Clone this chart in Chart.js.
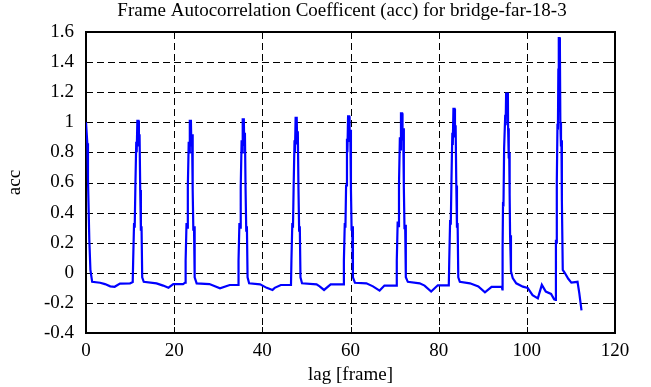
<!DOCTYPE html>
<html>
<head>
<meta charset="utf-8">
<script src="https://cdn.jsdelivr.net/npm/chart.js@4.4.1/dist/chart.umd.min.js"></script>
<style>
html,body{margin:0;padding:0;background:#fff;}
#wrap{width:651px;height:387px;position:relative;}
</style>
</head>
<body>
<div id="wrap"><canvas id="c" width="651" height="387"></canvas></div>
<script>
const titleText = "Frame Autocorrelation Coefficent (acc) for bridge-far-18-3";
const xTitle = "lag [frame]";
const yTitle = "acc";
const xTicks = [0, 20, 40, 60, 80, 100, 120];
const yTicks = [-0.4, -0.2, 0, 0.2, 0.4, 0.6, 0.8, 1, 1.2, 1.4, 1.6];

const lags = [
  0, 0.3, 0.45, 0.6, 0.75, 1.0, 1.4, 3.2, 4.3, 5.5, 6.5, 7.7, 10.0, 10.6,
  10.7, 10.9, 11.05, 11.2, 11.4, 11.5, 11.65, 11.9, 12.0, 12.15, 12.3, 12.45, 12.6, 12.75, 13.1,
  16.0, 17.5, 18.7, 19.8, 22.0, 22.5,
  22.6, 22.8, 22.95, 23.1, 23.3, 23.4, 23.55, 23.8, 23.9, 24.05, 24.2, 24.35, 24.5, 24.65, 25.1,
  28.0, 30.4, 32.6, 34.5,
  34.6, 34.8, 34.95, 35.1, 35.3, 35.4, 35.55, 35.8, 35.9, 36.05, 36.2, 36.35, 36.5, 36.65, 37.0,
  39.5, 41.0, 42.3, 42.8, 44.2, 46.5,
  46.6, 46.8, 46.95, 47.1, 47.3, 47.4, 47.55, 47.8, 47.9, 48.05, 48.2, 48.35, 48.5, 48.65, 49.0,
  52.3, 53.0, 54.0, 55.5, 58.4,
  58.5, 58.7, 58.85, 59.0, 59.2, 59.3, 59.45, 59.7, 59.8, 59.95, 60.1, 60.25, 60.4, 60.55, 61.0,
  63.6, 65.1, 66.6, 67.7, 70.4,
  70.5, 70.7, 70.85, 71.0, 71.2, 71.3, 71.45, 71.7, 71.8, 71.95, 72.1, 72.25, 72.4, 72.55, 73.0,
  75.7, 76.8, 78.3, 79.8, 82.3,
  82.4, 82.6, 82.75, 82.9, 83.1, 83.2, 83.35, 83.6, 83.7, 83.85, 84.0, 84.15, 84.3, 84.45, 84.8,
  87.1, 89.0, 90.5, 92.0, 94.3, 94.45,
  94.5, 94.6, 94.7, 94.85, 95.1, 95.2, 95.3, 95.7, 95.75, 95.9, 96.0, 96.1, 96.2, 96.4, 96.8,
  97.6, 99.1, 100.2, 101.3, 102.5, 103.4, 104.3, 105.5, 106.2, 106.5,
  106.6, 106.7, 106.8, 106.95, 107.05, 107.15, 107.25, 107.45, 107.5, 107.6, 107.75, 107.85, 107.95, 108.15,
  108.6, 109.4, 110.1, 111.5, 111.9, 112.4
];
const acc = [
  1.00, 0.86, 0.62, 0.42, 0.22, 0.02, -0.06, -0.066, -0.075, -0.09, -0.093, -0.072, -0.07, -0.062,
  0.08, 0.33, 0.30, 0.57, 0.87, 0.80, 1.01, 1.01, 0.84, 0.92, 0.55, 0.28, 0.31, -0.03, -0.06,
  -0.07, -0.085, -0.099, -0.075, -0.075, -0.065,
  0.08, 0.33, 0.30, 0.57, 0.87, 0.80, 1.01, 1.01, 0.84, 0.92, 0.55, 0.28, 0.31, -0.03, -0.07,
  -0.075, -0.103, -0.081, -0.081,
  0.08, 0.33, 0.30, 0.57, 0.88, 0.80, 1.02, 1.02, 0.85, 0.93, 0.55, 0.28, 0.31, -0.03, -0.07,
  -0.077, -0.1, -0.114, -0.1, -0.081, -0.081,
  0.08, 0.33, 0.30, 0.57, 0.88, 0.80, 1.03, 1.03, 0.86, 0.94, 0.55, 0.28, 0.31, -0.03, -0.07,
  -0.077, -0.09, -0.114, -0.077, -0.077,
  0.08, 0.33, 0.30, 0.58, 0.89, 0.80, 1.04, 1.04, 0.87, 0.95, 0.56, 0.28, 0.31, -0.03, -0.066,
  -0.07, -0.09, -0.118, -0.085, -0.085,
  0.08, 0.34, 0.31, 0.59, 0.90, 0.82, 1.06, 1.06, 0.88, 0.96, 0.57, 0.29, 0.32, -0.03, -0.06,
  -0.07, -0.085, -0.125, -0.083, -0.083,
  0.08, 0.35, 0.32, 0.61, 0.93, 0.85, 1.09, 1.09, 0.90, 0.98, 0.58, 0.30, 0.33, -0.03, -0.06,
  -0.07, -0.09, -0.13, -0.093, -0.092, -0.11,
  0.16, 0.47, 0.44, 0.83, 1.05, 0.98, 1.19, 1.19, 0.96, 0.76, 0.80, 0.52, 0.25, 0.01, -0.035,
  -0.07, -0.092, -0.1, -0.148, -0.17, -0.08, -0.125, -0.14, -0.176, -0.18,
  0.22, 0.20, 0.60, 0.99, 0.95, 1.35, 1.56, 1.56, 1.50, 1.00, 0.84, 0.88, 0.48, 0.02,
  0.0, -0.04, -0.065, -0.06, -0.135, -0.25
];

const points = lags.map((x, i) => ({x: x, y: acc[i]}));
const FONT = "'Liberation Serif', 'DejaVu Serif', serif";
const FS = 19;

const framePlugin = {
  id: 'frame',
  beforeDatasetsDraw(chart) {
    const {ctx, chartArea: a, scales: {x, y}} = chart;
    ctx.save();
    ctx.strokeStyle = '#000';
    ctx.lineWidth = 1;
    ctx.setLineDash([7, 4]);
    xTicks.forEach(v => {
      if (v === xTicks[0] || v === xTicks[xTicks.length - 1]) return;
      const px = Math.round(x.getPixelForValue(v)) + 0.5;
      ctx.beginPath(); ctx.moveTo(px, a.top); ctx.lineTo(px, a.bottom); ctx.stroke();
    });
    yTicks.forEach(v => {
      if (v === yTicks[0] || v === yTicks[yTicks.length - 1]) return;
      const py = Math.round(y.getPixelForValue(v)) + 0.5;
      ctx.beginPath(); ctx.moveTo(a.left, py); ctx.lineTo(a.right, py); ctx.stroke();
    });
    ctx.setLineDash([]);
    const TL = 6;
    xTicks.forEach(v => {
      const px = Math.round(x.getPixelForValue(v)) + 0.5;
      ctx.beginPath();
      ctx.moveTo(px, a.bottom); ctx.lineTo(px, a.bottom - TL);
      ctx.moveTo(px, a.top); ctx.lineTo(px, a.top + TL);
      ctx.stroke();
    });
    yTicks.forEach(v => {
      const py = Math.round(y.getPixelForValue(v)) + 0.5;
      ctx.beginPath();
      ctx.moveTo(a.left, py); ctx.lineTo(a.left + TL, py);
      ctx.moveTo(a.right, py); ctx.lineTo(a.right - TL, py);
      ctx.stroke();
    });
    ctx.lineWidth = 2;
    ctx.strokeRect(Math.round(a.left), Math.round(a.top), Math.round(a.right - a.left), Math.round(a.bottom - a.top));
    ctx.restore();
  },
  afterDraw(chart) {
    const {ctx, chartArea: a} = chart;
    ctx.save();
    ctx.fillStyle = '#000';
    ctx.font = FS + 'px ' + FONT;
    ctx.textAlign = 'center';
    ctx.textBaseline = 'middle';
    ctx.fillText(titleText, 342, 11);
    ctx.fillText(xTitle, (a.left + a.right) / 2, 375);
    ctx.translate(15, (a.top + a.bottom) / 2);
    ctx.rotate(-Math.PI / 2);
    ctx.fillText(yTitle, 0, 0);
    ctx.restore();
  }
};

new Chart(document.getElementById('c'), {
  type: 'line',
  data: {
    datasets: [{
      data: points,
      borderColor: '#0000ff',
      borderWidth: 2.2,
      pointRadius: 0,
      tension: 0,
      fill: false
    }]
  },
  options: {
    responsive: false,
    animation: false,
    devicePixelRatio: 1,
    layout: {padding: {top: 32, right: 36, left: 0, bottom: 0}},
    plugins: {legend: {display: false}, title: {display: false}, tooltip: {enabled: false}},
    scales: {
      x: {
        type: 'linear', min: 0, max: 120,
        afterBuildTicks: s => { s.ticks = xTicks.map(v => ({value: v})); },
        afterFit: s => { s.height = 54; },
        grid: {display: false, drawTicks: false},
        border: {display: false},
        ticks: {color: '#000', font: {family: FONT, size: FS}, padding: 7, maxRotation: 0, autoSkip: false}
      },
      y: {
        type: 'linear', min: -0.4, max: 1.6,
        afterBuildTicks: s => { s.ticks = yTicks.map(v => ({value: v})); },
        afterFit: s => { s.width = 86; },
        grid: {display: false, drawTicks: false},
        border: {display: false},
        ticks: {color: '#000', font: {family: FONT, size: FS}, padding: 12, autoSkip: false,
          callback: v => String(Math.round(v * 10) / 10)}
      }
    }
  },
  plugins: [framePlugin]
});
</script>
</body>
</html>
